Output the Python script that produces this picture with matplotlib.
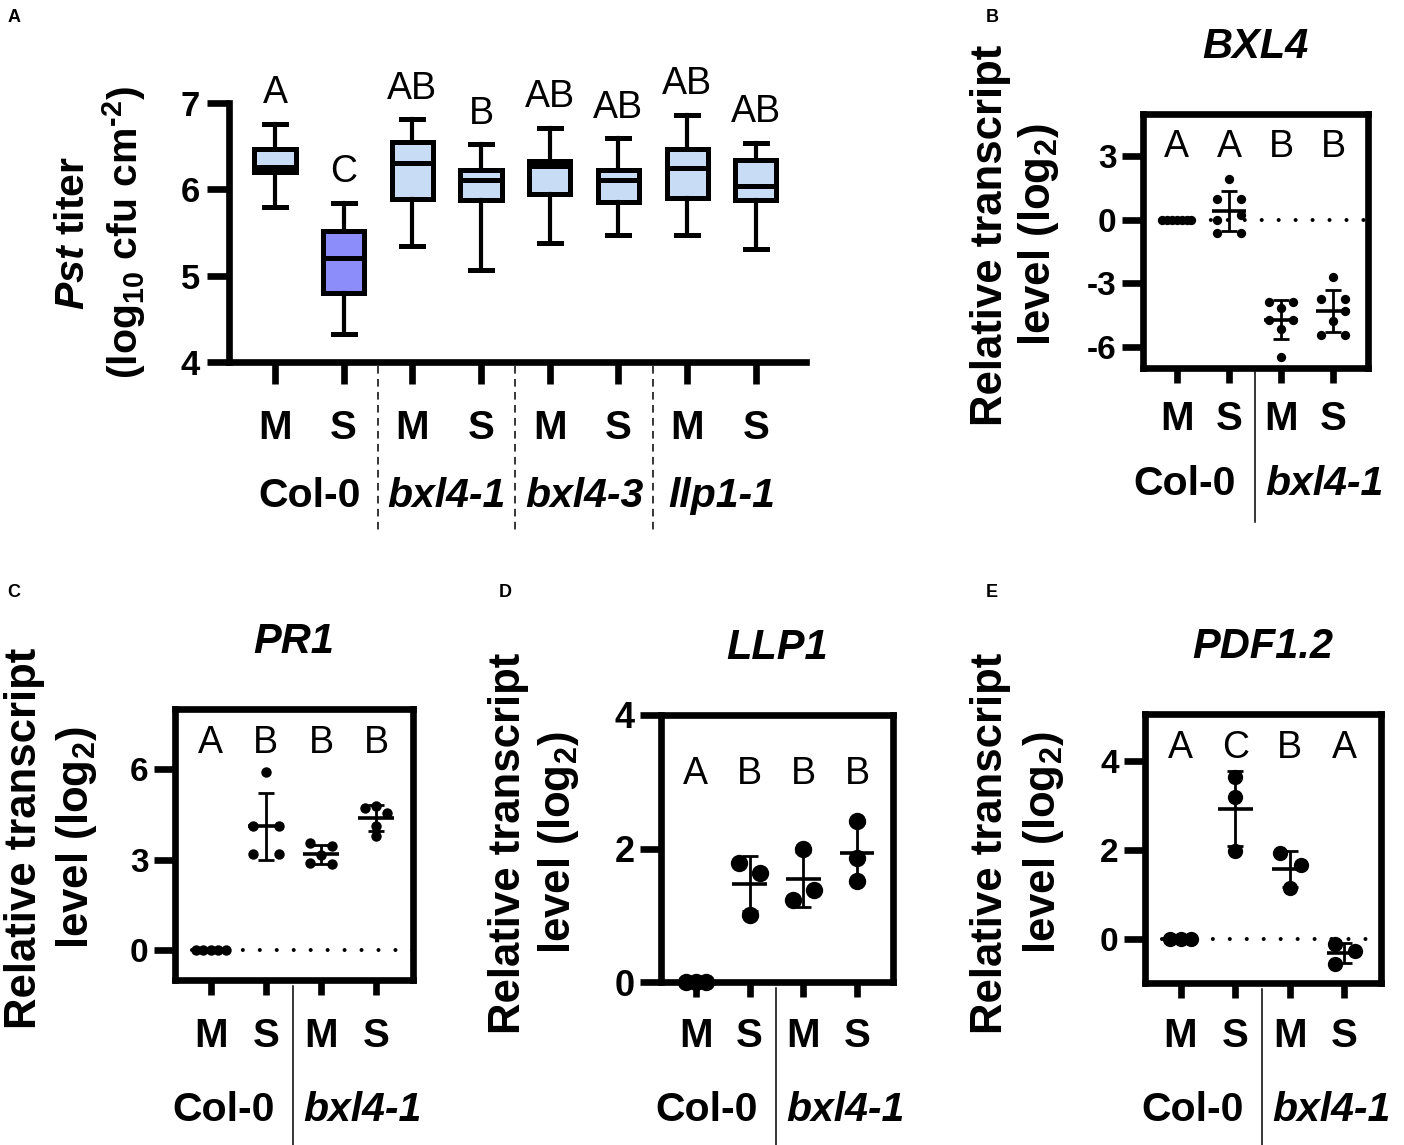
import matplotlib
matplotlib.use("Agg")
import matplotlib.pyplot as plt
import matplotlib.transforms as mtransforms
import numpy as np

plt.rcParams['font.family'] = ['Liberation Sans', 'DejaVu Sans']
plt.rcParams['font.weight'] = 'bold'
plt.rcParams['axes.unicode_minus'] = False
plt.rcParams['mathtext.fontset'] = 'custom'
plt.rcParams['mathtext.rm'] = 'Liberation Sans:bold'
plt.rcParams['mathtext.it'] = 'Liberation Sans:italic:bold'
plt.rcParams['mathtext.bf'] = 'Liberation Sans:bold'
plt.rcParams['mathtext.default'] = 'rm'

# ---------------- data ----------------
# A: Pst titer box plots
a_groups = ["Col-0", "bxl4-1", "bxl4-3", "llp1-1"]
a_treat = ["M", "S", "M", "S", "M", "S", "M", "S"]
a_whislo = [5.79, 4.32, 5.34, 5.07, 5.38, 5.47, 5.47, 5.31]
a_q1 = [6.20, 4.80, 5.89, 5.88, 5.95, 5.85, 5.90, 5.88]
a_med = [6.26, 5.20, 6.30, 6.11, 6.27, 6.11, 6.25, 6.04]
a_q3 = [6.47, 5.52, 6.55, 6.22, 6.33, 6.22, 6.47, 6.34]
a_whishi = [6.76, 5.84, 6.81, 6.52, 6.71, 6.59, 6.86, 6.54]
a_letters = ["A", "C", "AB", "B", "AB", "AB", "AB", "AB"]

# B-E: relative transcript level (log2), Col-0 M, Col-0 S, bxl4-1 M, bxl4-1 S
treat = ["M", "S", "M", "S"]
lines = ["Col-0", "bxl4-1"]

bxl4_vals = [[0, 0, 0, 0, 0, 0, 0],
             [1.93, 0.99, 0.99, 0.25, 0.0, -0.6, -0.6],
             [-3.9, -3.9, -4.15, -4.72, -4.72, -5.15, -6.48],
             [-2.7, -3.73, -3.73, -4.29, -4.8, -5.44, -5.44]]
bxl4_letters = ["A", "A", "B", "B"]

pr1_vals = [[0, 0, 0, 0, 0],
            [5.9, 4.1, 4.1, 3.2, 3.2],
            [3.55, 3.45, 3.15, 2.9, 2.85],
            [4.78, 4.7, 4.54, 4.1, 3.77]]
pr1_letters = ["A", "B", "B", "B"]

llp1_vals = [[0, 0, 0],
             [1.78, 1.63, 1.01],
             [2.0, 1.38, 1.23],
             [2.41, 1.86, 1.52]]
llp1_letters = ["A", "B", "B", "B"]

pdf_vals = [[0, 0, 0],
            [3.63, 3.18, 1.98],
            [1.92, 1.65, 1.13],
            [-0.12, -0.28, -0.58]]
pdf_letters = ["A", "C", "B", "A"]

# horizontal scatter of the dots (layout only)
bxl4_offs = [[-0.28, -0.19, -0.09, 0, 0.09, 0.19, 0.28],
             [0, -0.23, 0.23, 0.23, -0.23, -0.23, 0.23],
             [-0.23, 0.23, 0, -0.23, 0.23, 0, 0],
             [0, -0.23, 0.23, 0.23, 0, -0.23, 0.23]]
pr1_offs = [[-0.27, -0.135, 0, 0.135, 0.27],
            [0, -0.24, 0.24, -0.24, 0.24],
            [-0.2, 0.2, 0, -0.2, 0.2],
            [0, -0.2, 0.2, 0, 0]]
llp1_offs = [[-0.19, 0, 0.19], [-0.2, 0.2, 0], [0, 0.19, -0.19], [0, 0, 0]]
pdf_offs = [[-0.2, 0, 0.2], [0, 0, 0], [-0.18, 0.2, 0], [-0.18, 0.2, -0.17]]

# ---------------- figure ----------------
W, H = 1404, 1145
fig = plt.figure(figsize=(W / 100, H / 100), dpi=100)
LW = 4.8
light = "#c8dcf6"
dark = "#8c8cfb"
box_colors = [light, dark, light, light, light, light, light, light]


def rect(x0, y0, x1, y1):
    return [x0 / W, 1 - y1 / H, (x1 - x0) / W, (y1 - y0) / H]


def fy(y):
    return 1 - y / H


def ylabel2(x1, x2, yc, l1, l2, size):
    fig.text(x1 / W, fy(yc), l1, rotation=90, rotation_mode='anchor',
             ha='center', va='baseline', fontsize=size)
    fig.text(x2 / W, fy(yc), l2, rotation=90, rotation_mode='anchor',
             ha='center', va='baseline', fontsize=size)


# panel letters
for lab, (x, y) in zip("ABCDE", [(14, 22), (992, 22), (14, 597), (505, 597), (992, 597)]):
    fig.text(x / W, fy(y), lab, fontsize=13, ha='center', va='baseline')

# ---------------- A ----------------
axA = fig.add_axes(rect(229, 103, 806, 362))
stats = [dict(whislo=a_whislo[i], q1=a_q1[i], med=a_med[i], q3=a_q3[i],
              whishi=a_whishi[i]) for i in range(len(a_med))]
bp = axA.bxp(stats, positions=range(len(stats)), widths=0.6, patch_artist=True,
             showfliers=False, capwidths=0.32,
             boxprops=dict(linewidth=3.6, edgecolor='black'),
             medianprops=dict(color='black', linewidth=3.6),
             whiskerprops=dict(color='black', linewidth=3),
             capprops=dict(color='black', linewidth=3.6))
for b, c in zip(bp['boxes'], box_colors):
    b.set_facecolor(c)
axA.set_xlim(-0.67, 7.73)
axA.set_ylim(4, 7)
axA.spines[['top', 'right']].set_visible(False)
for s in ['left', 'bottom']:
    axA.spines[s].set_linewidth(LW)
    axA.spines[s].set_capstyle('projecting')
axA.set_yticks([4, 5, 6, 7])
axA.set_xticks(range(8))
axA.tick_params(axis='y', length=16, width=LW, labelsize=25, pad=5)
axA.tick_params(axis='x', length=16, width=LW, labelbottom=False)
for i, t in enumerate(a_letters):
    axA.annotate(t, (i, a_whishi[i]), xytext=(0, 15), textcoords='offset points',
                 ha='center', va='baseline', fontsize=27, fontweight='normal',
                 annotation_clip=False)
blA = mtransforms.blended_transform_factory(axA.transData, fig.transFigure)
for i, t in enumerate(a_treat):
    axA.text(i, fy(439), t, transform=blA, ha='center', va='baseline', fontsize=29)
for g, name in enumerate(a_groups):
    st = 'normal' if g == 0 else 'italic'
    axA.text(2 * g + 0.5, fy(507), name, transform=blA, ha='center', va='baseline',
             fontsize=29.5, fontstyle=st)
for xs in [1.5, 3.5, 5.5]:
    axA.plot([xs, xs], [fy(366), fy(530)], transform=blA, color='black', lw=1.1,
             ls=(0, (5, 3.5)), clip_on=False)
ylabel2(84, 138, 233, r"$\mathit{Pst}$ titer", r"(log$_{10}$ cfu cm$^{\text{-2}}$)", 29.5)


# ---------------- B-E ----------------
def dot_panel(box, vals, offs, ylim, yticks, letters, letter_base, title,
              msize, tsize, ylx, yly, ms_base, grp_base, sep):
    ax = fig.add_axes(rect(*box))
    ax.set_xlim(-0.65, 3.67)
    ax.set_ylim(*ylim)
    for s in ax.spines.values():
        s.set_linewidth(LW)
        s.set_capstyle('projecting')
    ax.set_yticks(yticks)
    ax.set_xticks(range(4))
    ax.tick_params(axis='y', length=15, width=LW, labelsize=tsize, pad=4)
    ax.tick_params(axis='x', length=11, width=LW, labelbottom=False)
    if ylim[0] < 0:
        ax.axhline(0, color='black', lw=2.9, ls=(0, (0.01, 4.2)),
                   dash_capstyle='round', zorder=1)
    for i, (v, o) in enumerate(zip(vals, offs)):
        v = np.array(v, dtype=float)
        x = i + np.array(o)
        ax.plot(x, v, 'o', color='black', ms=msize, mew=0, clip_on=False, zorder=5)
        m = v.mean()
        sd = v.std(ddof=1)
        ax.errorbar(i, m, yerr=sd, fmt='none', ecolor='black', elinewidth=2,
                    capsize=5.5, capthick=2, zorder=6)
        ax.hlines(m, i - 0.32, i + 0.32, color='black', lw=2.6, zorder=6)
    for i, t in enumerate(letters):
        ax.text(i, letter_base, t, transform=mtransforms.blended_transform_factory(
            ax.transData, ax.transAxes), ha='center', va='baseline', fontsize=27,
            fontweight='normal')
    x0, x1 = box[0], box[2]
    fig.text((x0 + x1) / 2 / W, fy(box[1] - 56), title, ha='center', va='baseline',
             fontsize=30, fontstyle='italic')
    bl = mtransforms.blended_transform_factory(ax.transData, fig.transFigure)
    for i, t in enumerate(treat):
        ax.text(i, fy(ms_base), t, transform=bl, ha='center', va='baseline', fontsize=29)
    ax.text(1.5, fy(grp_base), lines[0], ha='right', va='baseline', fontsize=29.5,
            transform=mtransforms.offset_copy(bl, fig=fig, x=-19, units='dots'))
    ax.text(1.5, fy(grp_base), lines[1], ha='left', va='baseline', fontsize=29.5,
            fontstyle='italic',
            transform=mtransforms.offset_copy(bl, fig=fig, x=10, units='dots'))
    ax.plot([1.5, 1.5], [fy(sep[0]), fy(sep[1])], transform=bl, color='black',
            lw=1.1, clip_on=False)
    ylabel2(ylx[0], ylx[1], yly, "Relative transcript", r"level (log$_2$)", 31.5)
    return ax


dot_panel((1143, 114, 1368, 368), bxl4_vals, bxl4_offs, (-7, 5), [-6, -3, 0, 3],
          bxl4_letters, 0.83, "BXL4", 6.7, 24, (1002, 1050), 235, 430, 495, (372, 522))
dot_panel((175, 709, 413, 980), pr1_vals, pr1_offs, (-1, 8), [0, 3, 6],
          pr1_letters, 0.836, "PR1", 7.5, 24, (36, 88), 838, 1047, 1121, (986, 1145))
dot_panel((661, 715, 893, 982), llp1_vals, llp1_offs, (0, 4), [0, 2, 4],
          llp1_letters, 0.74, "LLP1", 12.5, 26, (520, 570), 843, 1047, 1121, (988, 1145))
dot_panel((1145, 714, 1381, 983), pdf_vals, pdf_offs, (-1, 5.06), [0, 2, 4],
          pdf_letters, 0.835, "PDF1.2", 11, 24, (1002, 1055), 843, 1047, 1121, (989, 1145))

fig.savefig("out.png", dpi=100)
